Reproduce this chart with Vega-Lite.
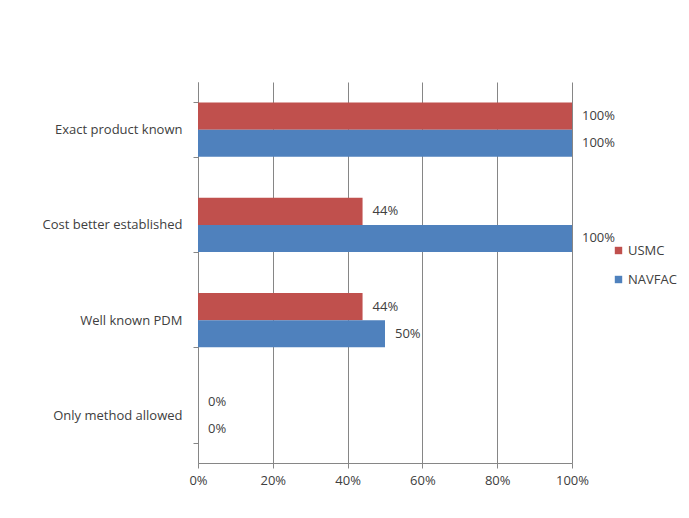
{
  "$schema": "https://vega.github.io/schema/vega-lite/v6.json",
  "width": 374,
  "height": 381,
  "autosize": {"type": "none"},
  "padding": {"left": 198, "top": 82, "right": 117, "bottom": 55},
  "background": "white",
  "config": {
    "view": {"stroke": null},
    "font": "Open Sans",
    "axis": {"labelFont": "Open Sans", "labelFontSize": 13, "labelColor": "#404040", "domainColor": "#868686", "tickColor": "#868686", "gridColor": "#868686"},
    "legend": {"labelFont": "Open Sans", "labelFontSize": 13, "labelColor": "#404040"}
  },
  "data": {
    "values": [
      {"category": "Exact product known", "series": "USMC", "value": 1.0},
      {"category": "Exact product known", "series": "NAVFAC", "value": 1.0},
      {"category": "Cost better established", "series": "USMC", "value": 0.44},
      {"category": "Cost better established", "series": "NAVFAC", "value": 1.0},
      {"category": "Well known PDM", "series": "USMC", "value": 0.44},
      {"category": "Well known PDM", "series": "NAVFAC", "value": 0.5},
      {"category": "Only method allowed", "series": "USMC", "value": 0.0},
      {"category": "Only method allowed", "series": "NAVFAC", "value": 0.0}
    ]
  },
  "encoding": {
    "y": {
      "field": "category",
      "type": "nominal",
      "sort": ["Exact product known", "Cost better established", "Well known PDM", "Only method allowed"],
      "scale": {"paddingInner": 0.43, "paddingOuter": 0.215},
      "axis": {"title": null, "tickBand": "extent", "tickSize": 5, "labelPadding": 11, "grid": false, "domainColor": "#868686"}
    },
    "yOffset": {"field": "series", "type": "nominal", "sort": ["USMC", "NAVFAC"], "scale": {"paddingInner": 0, "paddingOuter": 0}},
    "x": {
      "field": "value",
      "type": "quantitative",
      "scale": {"domain": [0, 1], "nice": false, "zero": true},
      "axis": {"title": null, "format": ".0%", "values": [0, 0.2, 0.4, 0.6, 0.8, 1.0], "grid": true, "tickSize": 5, "labelPadding": 6, "labelFlush": false}
    }
  },
  "layer": [
    {
      "mark": {"type": "bar"},
      "encoding": {
        "color": {
          "field": "series",
          "type": "nominal",
          "sort": ["USMC", "NAVFAC"],
          "scale": {"domain": ["USMC", "NAVFAC"], "range": ["#C0504D", "#4F81BD"]},
          "legend": {"title": null, "orient": "none", "legendX": 414, "legendY": 162, "symbolType": "square", "symbolSize": 55, "symbolStrokeWidth": 0, "rowPadding": 15, "labelOffset": 3}
        }
      }
    },
    {
      "mark": {"type": "text", "align": "left", "baseline": "middle", "dx": 10, "font": "Open Sans", "fontSize": 13, "color": "#404040"},
      "encoding": {
        "text": {"field": "value", "type": "quantitative", "format": ".0%"}
      }
    }
  ]
}
